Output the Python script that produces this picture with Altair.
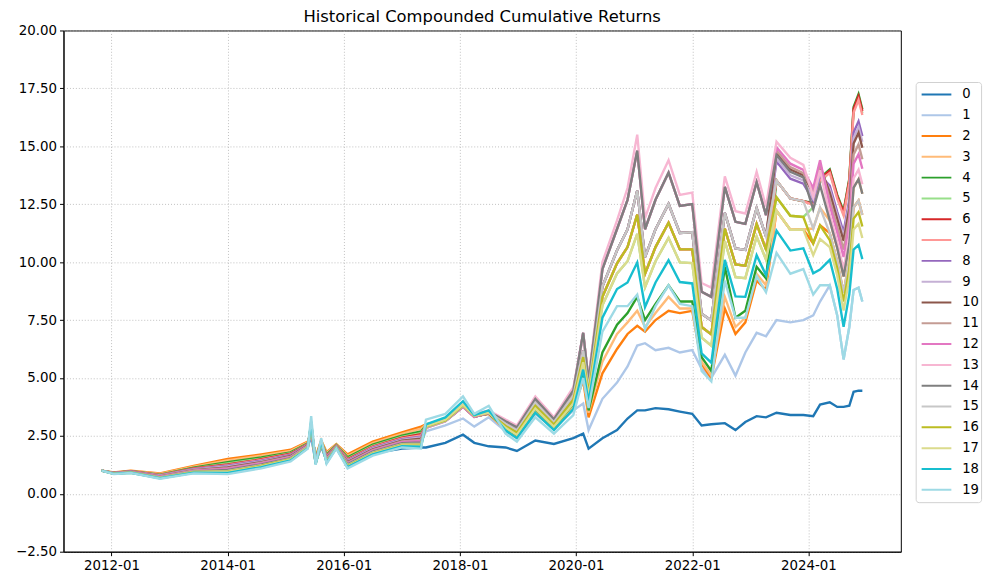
import altair as alt
import pandas as pd

dates = [
    "2011-10-31", "2012-01-15", "2012-05-01", "2012-11-01", "2013-06-01", "2014-01-01", "2014-08-01", "2015-02-01", "2015-05-20", "2015-06-10",
    "2015-07-08", "2015-08-12", "2015-09-15", "2015-11-15", "2016-01-25", "2016-07-01", "2017-01-01", "2017-05-01", "2017-06-01", "2017-10-01",
    "2018-01-20", "2018-04-01", "2018-07-01", "2018-10-15", "2018-12-25", "2019-04-20", "2019-08-15", "2019-12-15", "2020-02-15", "2020-03-20",
    "2020-06-15", "2020-09-15", "2020-11-20", "2021-01-20", "2021-03-10", "2021-05-15", "2021-08-05", "2021-10-15", "2022-01-01", "2022-03-01",
    "2022-05-01", "2022-07-25", "2022-09-30", "2022-12-01", "2023-02-10", "2023-04-10", "2023-06-15", "2023-09-10", "2023-12-01", "2024-02-01",
    "2024-03-15", "2024-05-15", "2024-07-01", "2024-08-10", "2024-09-15", "2024-10-12", "2024-11-12", "2024-12-06",
]

s0 = [1.00, 0.87, 0.93, 0.71, 0.96, 1.01, 1.25, 1.53, 2.03, 2.50,
      1.34, 2.05, 1.43, 2.00, 1.30, 1.75, 1.95, 2.00, 2.00, 2.20,
      2.55, 2.20, 2.05, 2.00, 1.85, 2.30, 2.15, 2.40, 2.60, 1.95,
      2.40, 2.75, 3.25, 3.60, 3.60, 3.70, 3.65, 3.55, 3.45, 2.95,
      3.00, 3.05, 2.75, 3.10, 3.35, 3.30, 3.50, 3.40, 3.40, 3.35,
      3.85, 3.95, 3.75, 3.75, 3.80, 4.40, 4.45, 4.45]
s1 = [1.00, 0.87, 0.93, 0.72, 0.98, 1.05, 1.28, 1.55, 2.04, 2.60,
      1.36, 2.12, 1.45, 2.01, 1.28, 1.83, 2.15, 2.20, 2.70, 2.95,
      3.25, 2.90, 3.30, 2.70, 2.40, 3.45, 2.80, 3.60, 3.90, 2.75,
      4.10, 4.80, 5.50, 6.40, 6.50, 6.20, 6.30, 6.10, 6.20, 5.40,
      5.00, 6.00, 5.10, 6.10, 6.95, 6.80, 7.50, 7.40, 7.50, 7.70,
      8.30, 9.00, 7.70, 5.80, 7.20, 8.80, 8.90, 8.30]
s2 = [1.00, 0.92, 1.00, 0.88, 1.20, 1.50, 1.70, 1.90, 2.25, 2.70,
      1.60, 2.30, 1.80, 2.15, 1.70, 2.25, 2.65, 2.90, 3.00, 3.20,
      3.80, 3.35, 3.45, 2.75, 2.43, 3.53, 2.78, 3.70, 4.90, 3.30,
      5.20, 6.25, 6.90, 7.25, 7.00, 7.50, 7.90, 7.80, 7.90, 5.60,
      5.00, 8.00, 6.90, 7.40, 9.20, 8.80, 12.22, 11.40, 11.41, 10.81,
      11.59, 11.25, 10.04, 8.68, 10.08, 12.36, 12.66, 12.04]
s3 = [1.00, 0.91, 0.99, 0.86, 1.17, 1.44, 1.64, 1.85, 2.22, 2.75,
      1.57, 2.28, 1.75, 2.13, 1.64, 2.19, 2.59, 2.81, 2.98, 3.19,
      3.80, 3.35, 3.45, 2.78, 2.46, 3.57, 2.81, 3.76, 5.10, 3.50,
      5.70, 6.90, 7.40, 7.90, 7.20, 7.80, 8.50, 8.00, 8.00, 5.70,
      5.10, 8.50, 7.20, 7.60, 9.50, 9.00, 12.22, 11.40, 11.41, 11.45,
      12.35, 11.80, 10.61, 9.38, 10.78, 13.22, 13.58, 12.95]
s4 = [1.00, 0.90, 0.98, 0.83, 1.13, 1.36, 1.57, 1.79, 2.18, 2.80,
      1.52, 2.25, 1.69, 2.11, 1.57, 2.12, 2.51, 2.69, 2.95, 3.18,
      3.80, 3.34, 3.46, 2.84, 2.53, 3.66, 2.88, 3.88, 5.30, 3.60,
      6.10, 7.30, 7.80, 8.50, 7.50, 8.20, 9.00, 8.30, 8.30, 5.90,
      5.30, 9.80, 7.60, 7.90, 9.80, 9.30, 13.52, 12.75, 12.63, 12.56,
      13.64, 14.00, 12.90, 12.20, 13.60, 16.70, 17.25, 16.60]
s5 = [1.00, 0.90, 0.97, 0.81, 1.10, 1.31, 1.52, 1.75, 2.16, 2.85,
      1.50, 2.22, 1.65, 2.09, 1.52, 2.07, 2.46, 2.62, 2.92, 3.17,
      3.78, 3.34, 3.47, 2.93, 2.64, 3.80, 2.99, 4.06, 5.68, 4.19,
      8.14, 9.51, 10.04, 11.22, 8.92, 10.04, 11.05, 9.99, 9.96, 6.74,
      6.39, 10.91, 9.35, 9.31, 11.11, 10.11, 12.80, 12.00, 11.95, 12.37,
      13.43, 13.90, 12.80, 12.07, 13.47, 16.54, 17.08, 16.43]
s6 = [1.00, 0.90, 0.97, 0.80, 1.09, 1.27, 1.49, 1.73, 2.15, 2.85,
      1.48, 2.21, 1.63, 2.08, 1.49, 2.04, 2.42, 2.57, 2.90, 3.16,
      3.78, 3.33, 3.47, 2.96, 2.67, 3.84, 3.02, 4.12, 5.90, 4.35,
      8.50, 9.95, 10.65, 12.05, 9.50, 10.65, 11.70, 10.55, 10.55, 7.20,
      6.88, 11.45, 9.90, 9.85, 11.65, 10.55, 13.52, 12.75, 12.63, 12.51,
      13.59, 13.95, 12.85, 12.14, 13.54, 16.62, 17.17, 16.52]
s7 = [1.00, 0.89, 0.96, 0.79, 1.07, 1.24, 1.46, 1.70, 2.13, 2.86,
      1.46, 2.20, 1.60, 2.07, 1.46, 2.01, 2.39, 2.52, 2.89, 3.15,
      3.77, 3.33, 3.48, 2.99, 2.71, 3.89, 3.06, 4.18, 5.90, 4.35,
      8.50, 9.95, 10.65, 12.05, 9.50, 10.65, 11.70, 10.55, 10.55, 7.20,
      6.88, 11.45, 9.90, 9.85, 11.65, 10.55, 13.52, 12.75, 12.63, 12.46,
      13.54, 13.85, 12.74, 12.01, 13.41, 16.46, 17.00, 16.35]
s8 = [1.00, 0.89, 0.96, 0.78, 1.06, 1.21, 1.43, 1.68, 2.12, 2.87,
      1.44, 2.19, 1.58, 2.06, 1.43, 1.98, 2.36, 2.47, 2.88, 3.15,
      3.77, 3.33, 3.48, 3.02, 2.74, 3.93, 3.09, 4.24, 6.17, 4.55,
      8.95, 10.51, 11.42, 13.09, 10.22, 11.42, 12.51, 11.26, 11.29, 7.77,
      7.48, 12.13, 10.59, 10.53, 12.33, 11.11, 14.34, 13.60, 13.39, 12.65,
      13.75, 13.30, 12.17, 11.30, 12.70, 15.59, 16.08, 15.44]
s9 = [1.00, 0.89, 0.95, 0.77, 1.04, 1.18, 1.40, 1.65, 2.10, 2.88,
      1.43, 2.18, 1.55, 2.05, 1.40, 1.95, 2.33, 2.43, 2.87, 3.14,
      3.76, 3.32, 3.49, 3.05, 2.78, 3.98, 3.13, 4.30, 6.17, 4.55,
      8.95, 10.51, 11.42, 13.09, 10.22, 11.42, 12.51, 11.26, 11.29, 7.77,
      7.48, 12.13, 10.59, 10.53, 12.33, 11.11, 14.48, 13.75, 13.53, 12.74,
      13.86, 13.15, 12.02, 11.11, 12.51, 15.36, 15.83, 15.19]
s10 = [1.00, 0.88, 0.95, 0.75, 1.02, 1.14, 1.37, 1.63, 2.09, 2.89,
       1.41, 2.18, 1.53, 2.04, 1.37, 1.92, 2.29, 2.38, 2.86, 3.14,
       3.76, 3.32, 3.50, 3.08, 2.81, 4.02, 3.16, 4.36, 6.17, 4.55,
       8.95, 10.51, 11.42, 13.09, 10.22, 11.42, 12.51, 11.26, 11.29, 7.77,
       7.48, 12.13, 10.59, 10.53, 12.33, 11.11, 14.72, 14.00, 13.75, 12.97,
       14.13, 13.00, 11.86, 10.92, 12.32, 15.12, 15.58, 14.94]
s11 = [1.00, 0.88, 0.94, 0.74, 1.01, 1.11, 1.34, 1.60, 2.07, 2.90,
       1.39, 2.17, 1.50, 2.03, 1.34, 1.89, 2.26, 2.33, 2.85, 3.13,
       3.75, 3.32, 3.50, 3.11, 2.85, 4.07, 3.20, 4.42, 6.95, 4.87,
       9.70, 11.43, 12.69, 14.81, 11.42, 12.69, 13.86, 12.43, 12.51, 8.72,
       8.50, 13.25, 11.74, 11.65, 13.45, 12.03, 14.82, 14.10, 13.84, 13.06,
       14.24, 12.70, 11.55, 10.54, 11.94, 14.65, 15.08, 14.44]
s12 = [1.00, 0.87, 0.94, 0.73, 0.99, 1.08, 1.31, 1.58, 2.06, 2.92,
       1.37, 2.17, 1.48, 2.02, 1.31, 1.86, 2.23, 2.28, 2.85, 3.13,
       3.75, 3.33, 3.52, 3.14, 2.88, 4.11, 3.23, 4.48, 6.95, 4.87,
       9.70, 11.43, 12.69, 14.81, 11.42, 12.69, 13.86, 12.43, 12.51, 8.72,
       8.50, 13.25, 11.74, 11.65, 13.45, 12.03, 14.96, 14.25, 13.98, 13.20,
       14.40, 12.45, 11.29, 10.22, 11.62, 14.25, 14.66, 14.03]
s13 = [1.00, 0.87, 0.93, 0.71, 0.96, 1.01, 1.25, 1.53, 2.03, 3.00,
       1.34, 2.18, 1.43, 2.00, 1.25, 1.80, 2.16, 2.19, 2.85, 3.12,
       3.85, 3.45, 3.60, 3.20, 2.95, 4.20, 3.30, 4.60, 6.80, 5.00,
       10.00, 11.80, 13.20, 15.50, 11.90, 13.20, 14.40, 12.90, 13.00, 9.10,
       8.90, 13.70, 12.20, 12.10, 13.90, 12.40, 15.20, 14.50, 14.20, 12.83,
       13.97, 12.05, 10.87, 9.70, 11.10, 13.62, 13.99, 13.36]
s14 = [1.00, 0.87, 0.93, 0.71, 0.97, 1.03, 1.27, 1.54, 2.03, 3.00,
       1.35, 2.18, 1.44, 2.01, 1.27, 1.82, 2.18, 2.22, 2.87, 3.14,
       3.80, 3.40, 3.55, 3.13, 2.87, 4.09, 3.22, 4.46, 6.95, 4.87,
       9.70, 11.43, 12.69, 14.81, 11.42, 12.69, 13.86, 12.43, 12.51, 8.72,
       8.50, 13.25, 11.74, 11.65, 13.45, 12.03, 14.62, 13.90, 13.66, 12.28,
       13.32, 11.80, 10.61, 9.38, 10.78, 13.22, 13.58, 12.95]
s15 = [1.00, 0.87, 0.92, 0.70, 0.95, 0.99, 1.23, 1.51, 2.02, 3.02,
       1.33, 2.19, 1.41, 1.99, 1.23, 1.78, 2.14, 2.16, 2.88, 3.15,
       3.80, 3.38, 3.52, 3.02, 2.74, 3.93, 3.09, 4.24, 6.17, 4.55,
       8.95, 10.51, 11.42, 13.09, 10.22, 11.42, 12.51, 11.26, 11.29, 7.77,
       7.48, 12.13, 10.59, 10.53, 12.33, 11.11, 13.52, 12.75, 12.63, 11.45,
       12.35, 11.25, 10.04, 8.68, 10.08, 12.36, 12.66, 12.04]
s16 = [1.00, 0.86, 0.92, 0.69, 0.94, 0.97, 1.21, 1.49, 2.00, 3.04,
       1.31, 2.20, 1.39, 1.99, 1.21, 1.76, 2.12, 2.12, 2.90, 3.17,
       3.82, 3.37, 3.50, 2.93, 2.64, 3.80, 2.99, 4.06, 5.90, 4.35,
       8.50, 9.95, 10.65, 12.05, 9.50, 10.65, 11.70, 10.55, 10.55, 7.20,
       6.88, 11.45, 9.90, 9.85, 11.65, 10.55, 12.80, 12.00, 11.95, 10.81,
       11.59, 10.95, 9.73, 8.30, 9.70, 11.88, 12.16, 11.54]
s17 = [1.00, 0.86, 0.91, 0.68, 0.92, 0.94, 1.18, 1.47, 1.99, 3.06,
       1.30, 2.22, 1.37, 1.98, 1.18, 1.73, 2.09, 2.08, 2.92, 3.20,
       3.85, 3.37, 3.50, 2.85, 2.54, 3.68, 2.89, 3.90, 5.68, 4.19,
       8.14, 9.51, 10.04, 11.22, 8.92, 10.04, 11.05, 9.99, 9.96, 6.74,
       6.39, 10.91, 9.35, 9.31, 11.11, 10.11, 12.22, 11.40, 11.41, 10.30,
       11.00, 10.65, 9.42, 7.91, 9.31, 11.41, 11.66, 11.04]
s18 = [1.00, 0.86, 0.91, 0.67, 0.91, 0.90, 1.15, 1.44, 1.97, 3.12,
       1.28, 2.26, 1.34, 1.97, 1.15, 1.70, 2.05, 2.03, 3.00, 3.30,
       4.00, 3.40, 3.60, 2.73, 2.40, 3.50, 2.75, 3.66, 5.36, 3.96,
       7.60, 8.84, 9.12, 9.98, 8.06, 9.12, 10.08, 9.14, 9.08, 6.06,
       5.66, 10.10, 8.52, 8.50, 10.30, 9.44, 11.36, 10.50, 10.60, 9.52,
       9.68, 10.10, 8.84, 7.21, 8.61, 10.54, 10.74, 10.13]
s19 = [1.00, 0.85, 0.90, 0.65, 0.88, 0.85, 1.10, 1.40, 1.95, 3.35,
       1.25, 2.40, 1.30, 1.95, 1.10, 1.65, 2.00, 1.95, 3.20, 3.45,
       4.20, 3.45, 3.80, 2.60, 2.25, 3.30, 2.60, 3.40, 5.00, 3.70,
       7.00, 8.10, 8.10, 8.60, 7.10, 8.10, 9.00, 8.20, 8.10, 5.30,
       4.85, 9.20, 7.60, 7.60, 9.40, 8.70, 10.40, 9.50, 9.70, 8.60,
       9.00, 9.00, 7.70, 5.80, 7.20, 8.80, 8.90, 8.30]

series_labels = [str(i) for i in range(20)]
series_values = [s0, s1, s2, s3, s4, s5, s6, s7, s8, s9,
                 s10, s11, s12, s13, s14, s15, s16, s17, s18, s19]
tab20 = ["#1f77b4", "#aec7e8", "#ff7f0e", "#ffbb78", "#2ca02c", "#98df8a",
         "#d62728", "#ff9896", "#9467bd", "#c5b0d5", "#8c564b", "#c49c94",
         "#e377c2", "#f7b6d2", "#7f7f7f", "#c7c7c7", "#bcbd22", "#dbdb8d",
         "#17becf", "#9edae5"]
y_ticks = [-2.5, 0.0, 2.5, 5.0, 7.5, 10.0, 12.5, 15.0, 17.5, 20.0]
x_tick_years = [2012, 2014, 2016, 2018, 2020, 2022, 2024]

rows = []
for lab, vals in zip(series_labels, series_values):
    for d, v in zip(dates, vals):
        rows.append({"date": d, "series": lab, "value": v})
df = pd.DataFrame(rows)

FONT = "DejaVu Sans"

chart = alt.Chart(df).mark_line(strokeWidth=2.4, clip=True).encode(
    x=alt.X(
        "date:T",
        scale=alt.Scale(
            type="utc",
            domain=[alt.DateTime(year=2011, month=3, date=5, utc=True),
                    alt.DateTime(year=2025, month=8, date=5, utc=True)],
        ),
        axis=alt.Axis(
            values=[alt.DateTime(year=y, month=1, date=1, utc=True) for y in x_tick_years],
            format="%Y-%m", title=None, grid=True,
        ),
    ),
    y=alt.Y(
        "value:Q",
        scale=alt.Scale(domain=[-2.5, 20], nice=False, zero=False),
        axis=alt.Axis(values=y_ticks, format=".2f", title=None, grid=True),
    ),
    color=alt.Color(
        "series:N",
        sort=series_labels,
        scale=alt.Scale(domain=series_labels, range=tab20),
        legend=alt.Legend(
            title=None, orient="none", legendX=860, legendY=52,
            symbolType="stroke", symbolSize=900, symbolStrokeWidth=2,
            symbolOffset=3, clipHeight=21,
            labelFontSize=13.3, labelFont=FONT, labelColor="black",
            padding=2, strokeColor="#d0d0d0", fillColor="white", cornerRadius=3,
            rowPadding=0, labelOffset=10,
        ),
    ),
).properties(
    width=845, height=526,
    title=alt.TitleParams(
        "Historical Compounded Cumulative Returns",
        font=FONT, fontSize=16.5, fontWeight="normal", color="black",
        anchor="middle", offset=-2,
    ),
    autosize=alt.AutoSizeParams(type="none"),
    padding={"left": 56, "top": 20, "right": 90, "bottom": 40},
).configure_view(
    stroke="black", strokeWidth=1,
).configure_axis(
    labelFont=FONT, labelFontSize=13.5, labelColor="black",
    domainColor="black", tickColor="black", tickSize=4, labelPadding=3,
    gridColor="#b0b0b0", gridDash=[1, 2], gridWidth=0.8,
)

chart.save("out.html", embed_options={"renderer": "svg", "actions": False})
